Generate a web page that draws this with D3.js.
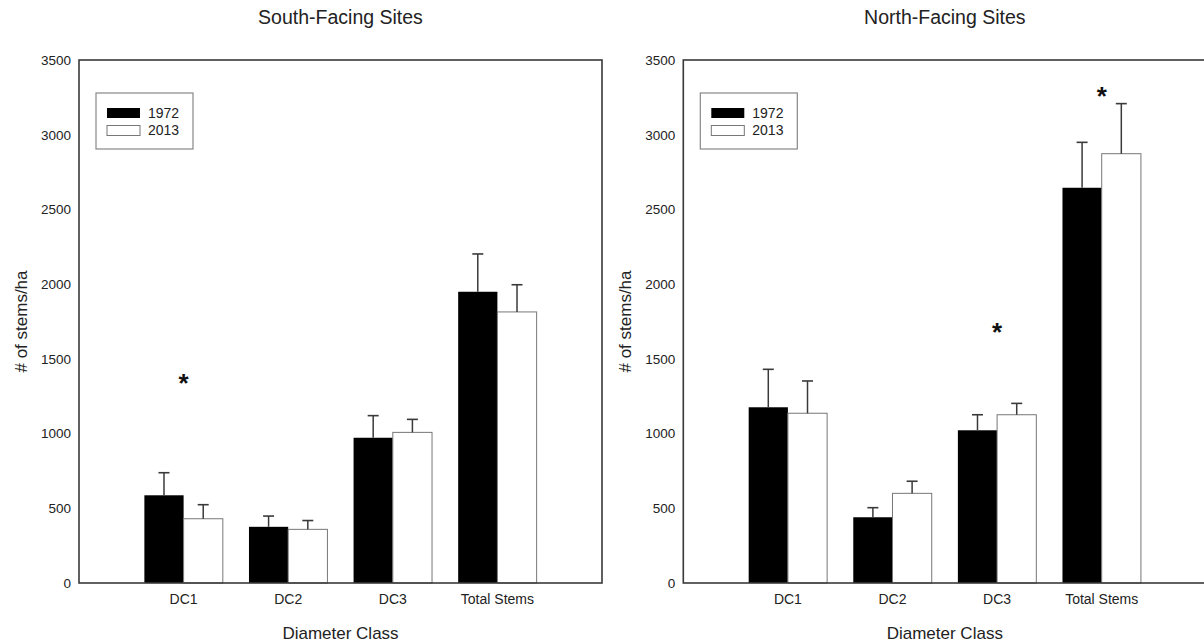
<!DOCTYPE html>
<html>
<head>
<meta charset="utf-8">
<script src="https://cdn.jsdelivr.net/npm/d3@7"></script>
<style>
  html, body { margin: 0; padding: 0; background: #fff; }
  svg { display: block; font-family: "Liberation Sans", Arial, sans-serif; }
</style>
</head>
<body>
<svg id="chart" width="1204" height="644"></svg>
<script>
// ---- data ----
const categories = ["DC1", "DC2", "DC3", "Total Stems"];
const seriesNames = ["1972", "2013"];
const yTicks = [0, 500, 1000, 1500, 2000, 2500, 3000, 3500];

const southTitle = "South-Facing Sites";
const south1972 = [587, 376, 972, 1949];
const south1972Err = [151, 72, 148, 253];
const south2013 = [430, 359, 1008, 1814];
const south2013Err = [94, 59, 87, 182];
const southStars = [{ cat: "DC1", value: 1380 }];

const northTitle = "North-Facing Sites";
const north1972 = [1176, 440, 1022, 2645];
const north1972Err = [254, 64, 104, 304];
const north2013 = [1136, 600, 1126, 2873];
const north2013Err = [216, 81, 76, 335];
const northStars = [{ cat: "DC3", value: 1722 }, { cat: "Total Stems", value: 3299 }];

const xTitle = "Diameter Class";
const yTitle = "# of stems/ha";

// ---- layout ----
const svg = d3.select("#chart");
const plotTop = 60, plotBottom = 583, plotW = 523;
const panels = [
  { x0: 79, title: southTitle, s: [south1972, south2013], e: [south1972Err, south2013Err], stars: southStars },
  { x0: 683.3, title: northTitle, s: [north1972, north2013], e: [north1972Err, north2013Err], stars: northStars }
];
const textColor = "#222";
const lineColor = "#3a3a3a";

const y = d3.scaleLinear().domain([0, 3500]).range([plotBottom, plotTop]);

panels.forEach(p => {
  const g = svg.append("g");
  const x = d3.scaleBand().domain(categories).range([p.x0, p.x0 + plotW])
    .paddingInner(0.25).paddingOuter(0.625);
  const xs = d3.scaleBand().domain(seriesNames).range([0, x.bandwidth()]).padding(0);
  const cx = p.x0 + plotW / 2;

  // title
  g.append("text").attr("x", cx).attr("y", 24).attr("text-anchor", "middle")
    .attr("font-size", 19.5).attr("fill", textColor).text(p.title);

  // bars
  seriesNames.forEach((sn, si) => {
    const rows = categories.map((c, i) => ({ c, v: p.s[si][i], e: p.e[si][i] }));
    g.selectAll(null).data(rows).enter().append("rect")
      .attr("x", d => x(d.c) + xs(sn))
      .attr("y", d => y(d.v))
      .attr("width", xs.bandwidth())
      .attr("height", d => y(0) - y(d.v))
      .attr("fill", si === 0 ? "#000" : "#fff")
      .attr("stroke", si === 0 ? "#000" : "#777")
      .attr("stroke-width", si === 0 ? 0 : 1);
    // error bars (upper only)
    const ex = d => x(d.c) + xs(sn) + xs.bandwidth() / 2;
    g.selectAll(null).data(rows).enter().append("line")
      .attr("x1", ex).attr("x2", ex)
      .attr("y1", d => y(d.v)).attr("y2", d => y(d.v + d.e))
      .attr("stroke", lineColor).attr("stroke-width", 1.5);
    g.selectAll(null).data(rows).enter().append("line")
      .attr("x1", d => ex(d) - 5.5).attr("x2", d => ex(d) + 5.5)
      .attr("y1", d => y(d.v + d.e)).attr("y2", d => y(d.v + d.e))
      .attr("stroke", lineColor).attr("stroke-width", 1.6);
  });

  // significance stars
  g.selectAll(null).data(p.stars).enter().append("text")
    .attr("x", d => x(d.cat) + x.bandwidth() / 2)
    .attr("y", d => y(d.value) + 15)
    .attr("text-anchor", "middle").attr("font-size", 26).attr("font-weight", "bold")
    .attr("fill", "#111").text("*");

  // y axis labels (no tick marks)
  const yAxis = d3.axisLeft(y).tickValues(yTicks).tickSize(0).tickPadding(8).tickFormat(d3.format("d"));
  const ya = g.append("g").attr("transform", `translate(${p.x0},0)`).call(yAxis);
  ya.select(".domain").remove();
  ya.selectAll("text").attr("font-size", 13.5).attr("fill", textColor)
    .attr("font-family", "Liberation Sans, Arial, sans-serif");

  // x axis labels
  const xAxis = d3.axisBottom(x).tickSize(0).tickPadding(11);
  const xa = g.append("g").attr("transform", `translate(0,${plotBottom})`).call(xAxis);
  xa.select(".domain").remove();
  xa.selectAll("text").attr("font-size", 14).attr("fill", textColor)
    .attr("font-family", "Liberation Sans, Arial, sans-serif");

  // frame
  g.append("rect").attr("x", p.x0).attr("y", plotTop).attr("width", plotW)
    .attr("height", plotBottom - plotTop).attr("fill", "none")
    .attr("stroke", lineColor).attr("stroke-width", 1.6);

  // axis titles
  g.append("text").attr("x", cx).attr("y", 639).attr("text-anchor", "middle")
    .attr("font-size", 17).attr("fill", textColor).text(xTitle);
  g.append("text")
    .attr("transform", `translate(${p.x0 - 52},${(plotTop + plotBottom) / 2}) rotate(-90)`)
    .attr("text-anchor", "middle").attr("font-size", 17).attr("fill", textColor).text(yTitle);

  // legend
  const lx = p.x0 + 17, ly = 93;
  g.append("rect").attr("x", lx).attr("y", ly).attr("width", 97).attr("height", 56)
    .attr("fill", "#fff").attr("stroke", "#888").attr("stroke-width", 1.2);
  seriesNames.forEach((sn, si) => {
    const ry = ly + 15 + si * 17.5;
    g.append("rect").attr("x", lx + 11).attr("y", ry).attr("width", 33).attr("height", 10)
      .attr("fill", si === 0 ? "#000" : "#fff")
      .attr("stroke", si === 0 ? "#000" : "#777").attr("stroke-width", si === 0 ? 0 : 1);
    g.append("text").attr("x", lx + 52).attr("y", ry + 5).attr("dy", "0.35em")
      .attr("font-size", 14).attr("fill", textColor).text(sn);
  });
});
</script>
</body>
</html>
